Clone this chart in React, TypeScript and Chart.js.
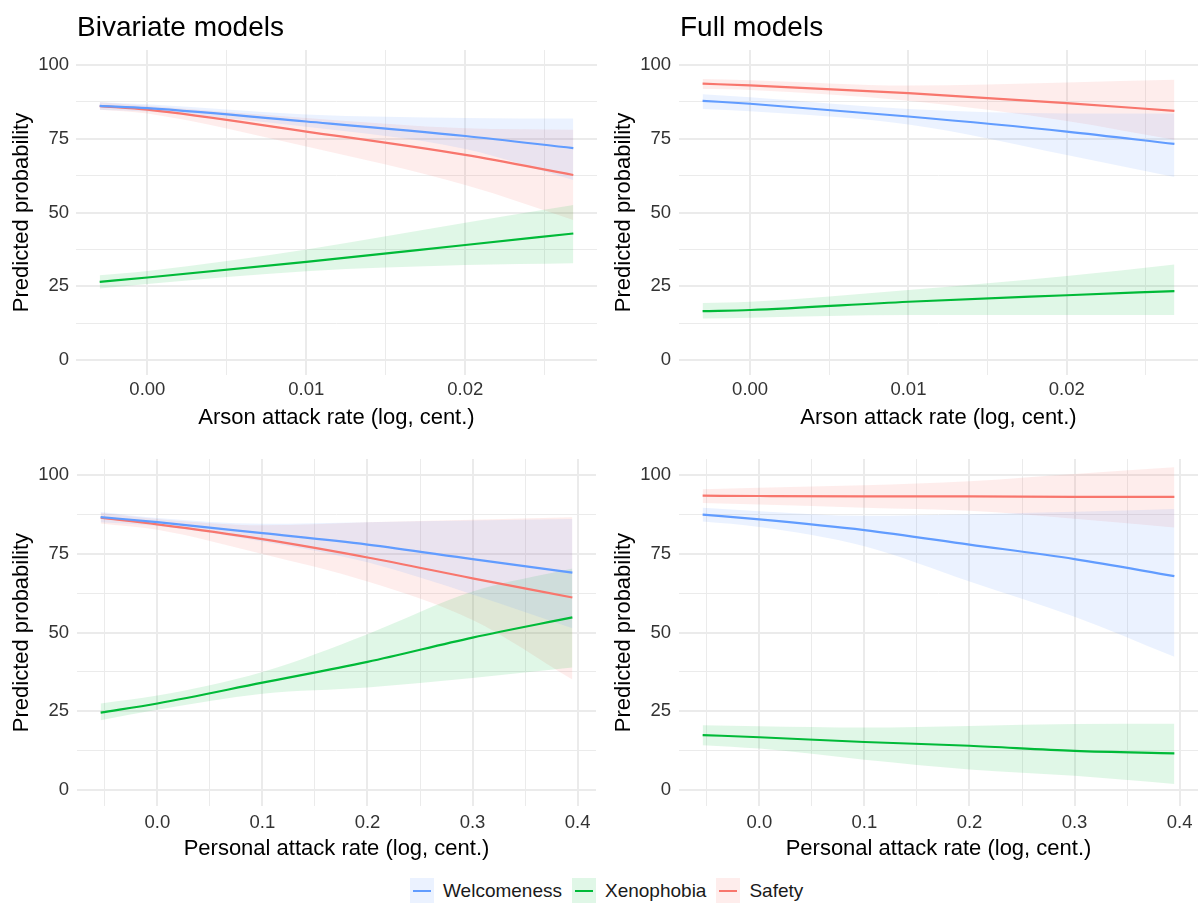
import React, { useEffect, useRef } from "react";
import { Chart, registerables } from "chart.js";
Chart.register(...registerables);

const FONT = '"Liberation Sans", Arial, "DejaVu Sans", sans-serif';

const SERIES_NAMES = ["Welcomeness", "Xenophobia", "Safety"];
const SERIES_COLORS = ["#619CFF", "#00BA38", "#F8766D"];
const RIBBON_COLORS = ["rgba(97,156,255,0.13)", "rgba(0,186,56,0.12)", "rgba(248,118,109,0.13)"];

// y axis
const Y_TICKS = [0, 12.5, 25, 37.5, 50, 62.5, 75, 87.5, 100];
const Y_TICK_LABELS = ["0", "", "25", "", "50", "", "75", "", "100"];
const Y_MIN = -5;
const Y_MAX = 105;

// x axes
const ARSON_TICKS = [0, 0.005, 0.01, 0.015, 0.02, 0.025];
const ARSON_TICK_LABELS = ["0.00", "", "0.01", "", "0.02", ""];
const ARSON_MIN = -0.00449;
const ARSON_MAX = 0.02829;
const PERSONAL_TICKS = [-0.05, 0, 0.05, 0.1, 0.15, 0.2, 0.25, 0.3, 0.35, 0.4];
const PERSONAL_TICK_LABELS = ["", "0.0", "", "0.1", "", "0.2", "", "0.3", "", "0.4"];
const PERSONAL_MIN = -0.0765;
const PERSONAL_MAX = 0.4175;

// x values
const ARSON_X = [-0.003, 0.0, 0.01, 0.02, 0.0268];
const PERSONAL_X = [-0.054, 0.0, 0.1, 0.2, 0.3, 0.395];

// Bivariate, arson
const BIV_ARSON_WELC = [86.1, 85.3, 80.8, 75.9, 71.8];
const BIV_ARSON_WELC_LO = [84.8, 84.2, 79.0, 71.5, 61.0];
const BIV_ARSON_WELC_HI = [87.4, 86.6, 83.2, 82.0, 81.8];
const BIV_ARSON_XENO = [26.5, 28.0, 33.3, 39.0, 42.9];
const BIV_ARSON_XENO_LO = [24.3, 25.8, 30.1, 32.2, 32.8];
const BIV_ARSON_XENO_HI = [28.8, 30.2, 37.5, 46.5, 52.5];
const BIV_ARSON_SAFE = [86.0, 84.8, 77.4, 69.5, 62.7];
const BIV_ARSON_SAFE_LO = [84.8, 83.5, 72.3, 59.3, 47.5];
const BIV_ARSON_SAFE_HI = [87.3, 86.1, 82.0, 78.5, 78.0];

// Full, arson
const FULL_ARSON_WELC = [87.8, 86.8, 82.5, 77.4, 73.2];
const FULL_ARSON_WELC_LO = [85.0, 84.3, 79.8, 69.5, 62.0];
const FULL_ARSON_WELC_HI = [90.0, 89.0, 85.0, 83.5, 83.5];
const FULL_ARSON_XENO = [16.6, 17.0, 19.8, 22.0, 23.4];
const FULL_ARSON_XENO_LO = [14.1, 14.4, 15.3, 15.3, 15.3];
const FULL_ARSON_XENO_HI = [19.4, 19.8, 23.8, 28.5, 32.4];
const FULL_ARSON_SAFE = [93.6, 93.0, 90.4, 87.0, 84.4];
const FULL_ARSON_SAFE_LO = [91.8, 91.5, 87.8, 81.0, 74.6];
const FULL_ARSON_SAFE_HI = [95.2, 94.8, 93.0, 94.0, 94.9];

// Bivariate, personal
const BIV_PERS_WELC = [86.6, 85.0, 81.5, 77.9, 73.3, 69.0];
const BIV_PERS_WELC_LO = [85.0, 83.8, 78.9, 72.3, 62.1, 51.4];
const BIV_PERS_WELC_HI = [88.2, 86.3, 84.5, 85.0, 85.5, 86.0];
const BIV_PERS_XENO = [24.6, 27.5, 34.1, 40.7, 48.4, 54.8];
const BIV_PERS_XENO_LO = [22.2, 25.5, 30.6, 32.6, 35.6, 38.9];
const BIV_PERS_XENO_HI = [27.5, 30.0, 37.5, 49.5, 63.0, 70.3];
const BIV_PERS_SAFE = [86.4, 84.3, 79.6, 73.8, 67.2, 61.1];
const BIV_PERS_SAFE_LO = [84.6, 82.6, 74.9, 66.2, 54.0, 35.1];
const BIV_PERS_SAFE_HI = [88.0, 86.0, 84.0, 85.0, 85.8, 86.6];

// Full, personal
const FULL_PERS_WELC = [87.4, 85.9, 82.5, 77.9, 73.3, 67.9];
const FULL_PERS_WELC_LO = [85.2, 83.5, 77.4, 66.2, 55.0, 42.3];
const FULL_PERS_WELC_HI = [89.6, 88.5, 87.0, 87.5, 88.3, 89.2];
const FULL_PERS_XENO = [17.5, 16.8, 15.3, 14.1, 12.5, 11.7];
const FULL_PERS_XENO_LO = [14.3, 13.2, 9.7, 6.6, 4.6, 2.0];
const FULL_PERS_XENO_HI = [20.6, 20.3, 19.9, 20.4, 21.0, 21.1];
const FULL_PERS_SAFE = [93.4, 93.3, 93.2, 93.2, 93.0, 93.0];
const FULL_PERS_SAFE_LO = [91.1, 90.6, 89.6, 88.6, 86.1, 83.3];
const FULL_PERS_SAFE_HI = [95.4, 95.9, 96.7, 98.0, 100.3, 102.4];

type SeriesSet = { line: number[]; lo: number[]; hi: number[] };

type PanelSpec = {
  left: number;
  top: number;
  width: number;
  height: number;
  title?: string;
  titleY: number;
  plotLeft: number;
  plotRight: number;
  plotTop: number;
  plotBottom: number;
  xValues: number[];
  xTicks: number[];
  xTickLabels: string[];
  xMin: number;
  xMax: number;
  xTitle: string;
  xTickPad: number;
  xTitlePad: number;
  yTickPad: number;
  yTitlePad: number;
  series: SeriesSet[];
};

const panelTitlePlugin = {
  id: "panelTitle",
  afterDraw(chart: any, _args: any, opts: any) {
    if (!opts || !opts.text) return;
    const ctx = chart.ctx;
    ctx.save();
    ctx.font = `28px ${FONT}`;
    ctx.fillStyle = "#000000";
    ctx.textBaseline = "alphabetic";
    ctx.textAlign = "left";
    ctx.fillText(opts.text, chart.chartArea.left + 1, opts.y);
    ctx.restore();
  },
};

function toPoints(xs: number[], ys: number[]) {
  return xs.map((x, i) => ({ x, y: ys[i] }));
}

function Panel({ spec }: { spec: PanelSpec }) {
  const ref = useRef<HTMLCanvasElement | null>(null);
  useEffect(() => {
    if (!ref.current) return;
    const lines = spec.series.map((s, i) => ({
      label: SERIES_NAMES[i],
      data: toPoints(spec.xValues, s.line),
      borderColor: SERIES_COLORS[i],
      borderWidth: 2.2,
      pointRadius: 0,
      fill: false,
      cubicInterpolationMode: "monotone" as const,
      order: 0,
    }));
    const ribbons: any[] = [];
    spec.series.forEach((s, i) => {
      ribbons.push({
        label: SERIES_NAMES[i] + " lo",
        data: toPoints(spec.xValues, s.lo),
        borderWidth: 0,
        borderColor: "rgba(0,0,0,0)",
        pointRadius: 0,
        fill: false,
        cubicInterpolationMode: "monotone",
        order: 1,
      });
      ribbons.push({
        label: SERIES_NAMES[i] + " hi",
        data: toPoints(spec.xValues, s.hi),
        borderWidth: 0,
        borderColor: "rgba(0,0,0,0)",
        backgroundColor: RIBBON_COLORS[i],
        pointRadius: 0,
        fill: "-1",
        cubicInterpolationMode: "monotone",
        order: 1,
      });
    });
    const xLabels = spec.xTickLabels;
    const chart = new Chart(ref.current, {
      type: "line",
      data: { datasets: [...lines, ...ribbons] },
      plugins: [panelTitlePlugin],
      options: {
        animation: false,
        responsive: false,
        events: [],
        layout: {
          padding: {
            left: 0,
            top: spec.plotTop,
            right: spec.width - spec.plotRight,
            bottom: 0,
          },
        },
        plugins: {
          legend: { display: false },
          tooltip: { enabled: false },
          // @ts-ignore
          panelTitle: { text: spec.title, y: spec.titleY },
        },
        scales: {
          x: {
            type: "linear",
            min: spec.xMin,
            max: spec.xMax,
            afterBuildTicks: (axis: any) => {
              axis.ticks = spec.xTicks.map((v) => ({ value: v }));
            },
            afterFit: (axis: any) => {
              axis.height = spec.height - spec.plotBottom;
            },
            ticks: {
              autoSkip: false,
              maxRotation: 0,
              padding: spec.xTickPad,
              color: "#333333",
              font: { size: 18.5, family: FONT },
              callback: (_v: any, i: number) => xLabels[i],
            },
            grid: {
              drawTicks: false,
              color: "#EBEBEB",
              lineWidth: (ctx: any) => (xLabels[ctx.index] ? 2 : 1),
            },
            border: { display: false },
            title: {
              display: true,
              text: spec.xTitle,
              color: "#000000",
              font: { size: 22, family: FONT },
              padding: { top: 0, bottom: spec.xTitlePad },
            },
          },
          y: {
            type: "linear",
            min: Y_MIN,
            max: Y_MAX,
            afterBuildTicks: (axis: any) => {
              axis.ticks = Y_TICKS.map((v) => ({ value: v }));
            },
            afterFit: (axis: any) => {
              axis.width = spec.plotLeft;
            },
            ticks: {
              autoSkip: false,
              padding: spec.yTickPad,
              color: "#333333",
              font: { size: 18.5, family: FONT },
              callback: (_v: any, i: number) => Y_TICK_LABELS[i],
            },
            grid: {
              drawTicks: false,
              color: "#EBEBEB",
              lineWidth: (ctx: any) => (Y_TICK_LABELS[ctx.index] ? 2 : 1),
            },
            border: { display: false },
            title: {
              display: true,
              text: "Predicted probability",
              color: "#000000",
              font: { size: 22, family: FONT },
              padding: { top: spec.yTitlePad, bottom: 0 },
            },
          },
        },
      } as any,
    });
    return () => chart.destroy();
  }, [spec]);
  return (
    <canvas
      ref={ref}
      width={spec.width}
      height={spec.height}
      style={{ position: "absolute", left: spec.left, top: spec.top, width: spec.width, height: spec.height }}
    />
  );
}

const PANELS: PanelSpec[] = [
  {
    left: 0, top: 0, width: 600, height: 440,
    title: "Bivariate models", titleY: 36,
    plotLeft: 76, plotRight: 597, plotTop: 50, plotBottom: 375,
    xValues: ARSON_X, xTicks: ARSON_TICKS, xTickLabels: ARSON_TICK_LABELS,
    xMin: ARSON_MIN, xMax: ARSON_MAX, xTitle: "Arson attack rate (log, cent.)",
    xTickPad: 4, xTitlePad: 9, yTickPad: 7, yTitlePad: 9,
    series: [
      { line: BIV_ARSON_WELC, lo: BIV_ARSON_WELC_LO, hi: BIV_ARSON_WELC_HI },
      { line: BIV_ARSON_XENO, lo: BIV_ARSON_XENO_LO, hi: BIV_ARSON_XENO_HI },
      { line: BIV_ARSON_SAFE, lo: BIV_ARSON_SAFE_LO, hi: BIV_ARSON_SAFE_HI },
    ],
  },
  {
    left: 600, top: 0, width: 600, height: 440,
    title: "Full models", titleY: 36,
    plotLeft: 79, plotRight: 598, plotTop: 50, plotBottom: 375,
    xValues: ARSON_X, xTicks: ARSON_TICKS, xTickLabels: ARSON_TICK_LABELS,
    xMin: ARSON_MIN, xMax: ARSON_MAX, xTitle: "Arson attack rate (log, cent.)",
    xTickPad: 4, xTitlePad: 9, yTickPad: 8, yTitlePad: 11,
    series: [
      { line: FULL_ARSON_WELC, lo: FULL_ARSON_WELC_LO, hi: FULL_ARSON_WELC_HI },
      { line: FULL_ARSON_XENO, lo: FULL_ARSON_XENO_LO, hi: FULL_ARSON_XENO_HI },
      { line: FULL_ARSON_SAFE, lo: FULL_ARSON_SAFE_LO, hi: FULL_ARSON_SAFE_HI },
    ],
  },
  {
    left: 0, top: 440, width: 600, height: 430,
    titleY: 0,
    plotLeft: 77, plotRight: 596, plotTop: 6, plotBottom: 366,
    xValues: PERSONAL_X, xTicks: PERSONAL_TICKS, xTickLabels: PERSONAL_TICK_LABELS,
    xMin: PERSONAL_MIN, xMax: PERSONAL_MAX, xTitle: "Personal attack rate (log, cent.)",
    xTickPad: 6, xTitlePad: 8, yTickPad: 8, yTitlePad: 9,
    series: [
      { line: BIV_PERS_WELC, lo: BIV_PERS_WELC_LO, hi: BIV_PERS_WELC_HI },
      { line: BIV_PERS_XENO, lo: BIV_PERS_XENO_LO, hi: BIV_PERS_XENO_HI },
      { line: BIV_PERS_SAFE, lo: BIV_PERS_SAFE_LO, hi: BIV_PERS_SAFE_HI },
    ],
  },
  {
    left: 600, top: 440, width: 600, height: 430,
    titleY: 0,
    plotLeft: 79, plotRight: 598, plotTop: 6, plotBottom: 366,
    xValues: PERSONAL_X, xTicks: PERSONAL_TICKS, xTickLabels: PERSONAL_TICK_LABELS,
    xMin: PERSONAL_MIN, xMax: PERSONAL_MAX, xTitle: "Personal attack rate (log, cent.)",
    xTickPad: 6, xTitlePad: 8, yTickPad: 8, yTitlePad: 11,
    series: [
      { line: FULL_PERS_WELC, lo: FULL_PERS_WELC_LO, hi: FULL_PERS_WELC_HI },
      { line: FULL_PERS_XENO, lo: FULL_PERS_XENO_LO, hi: FULL_PERS_XENO_HI },
      { line: FULL_PERS_SAFE, lo: FULL_PERS_SAFE_LO, hi: FULL_PERS_SAFE_HI },
    ],
  },
];

function Legend() {
  return (
    <div
      style={{
        position: "absolute",
        left: 410,
        top: 878,
        height: 25,
        display: "flex",
        alignItems: "center",
        fontFamily: FONT,
        fontSize: 19,
        color: "#1A1A1A",
        whiteSpace: "nowrap",
      }}
    >
      {SERIES_NAMES.map((name, i) => (
        <div key={name} style={{ display: "flex", alignItems: "center", marginRight: 10 }}>
          <div
            style={{
              position: "relative",
              width: 24,
              height: 25,
              background: RIBBON_COLORS[i],
            }}
          >
            <div
              style={{
                position: "absolute",
                left: 3,
                right: 3,
                top: 11.5,
                height: 2.2,
                background: SERIES_COLORS[i],
              }}
            />
          </div>
          <span style={{ marginLeft: 9, lineHeight: "25px" }}>{name}</span>
        </div>
      ))}
    </div>
  );
}

export default function App() {
  return (
    <div style={{ position: "absolute", left: 0, top: 0, width: 1200, height: 904, background: "#FFFFFF" }}>
      {PANELS.map((p, i) => (
        <Panel key={i} spec={p} />
      ))}
      <Legend />
    </div>
  );
}
